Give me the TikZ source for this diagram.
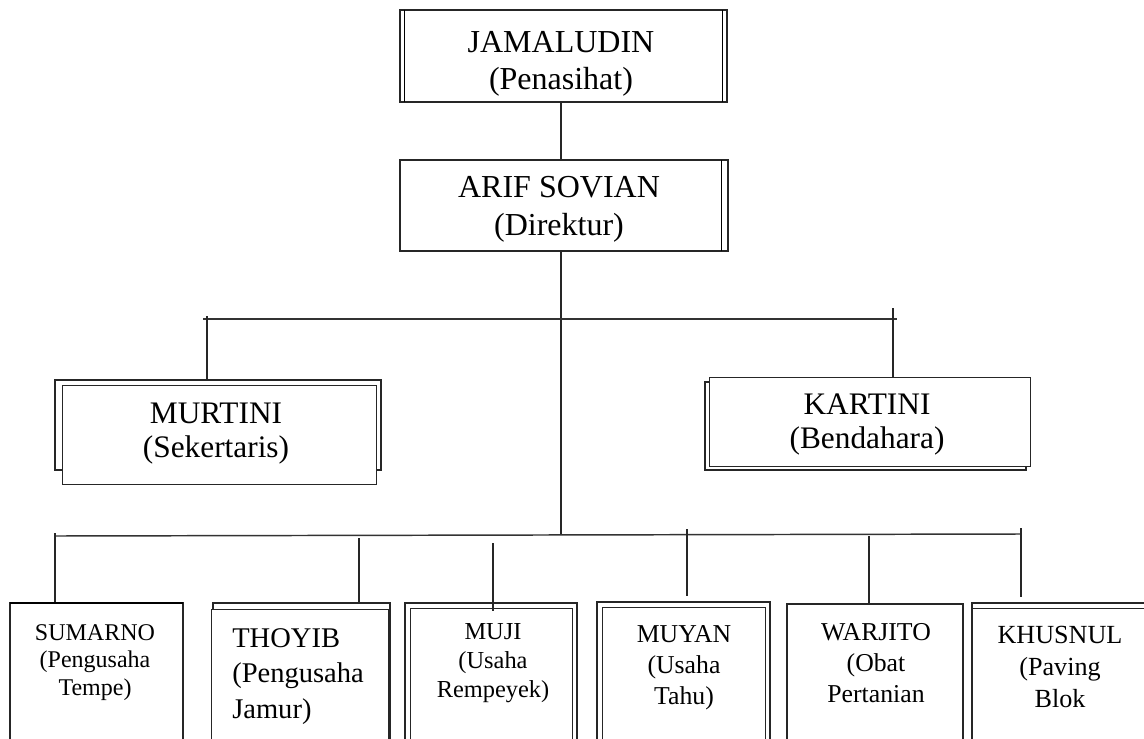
\documentclass[tikz,border=0pt]{standalone}
\usepackage{fontspec}
\setmainfont{Liberation Serif}
\usetikzlibrary{fit}
\tikzset{
  frame/.style={draw=black!85, line width=1.6pt, inner sep=0pt, fill=white},
  thinframe/.style={draw=black!85, line width=0.7pt, inner sep=0pt, fill=white},
  lbl/.style={inner sep=0pt, anchor=base, align=center, text=black},
  conn/.style={draw=black!85, line width=0.9pt},
  bus/.style={draw=black!80, line width=1.1pt},
}
\begin{document}
\begin{tikzpicture}[x=0.75pt,y=-0.75pt]
\useasboundingbox (0,0) rectangle (1144,738);
\clip (0,0) rectangle (1144,738);
% ---- top boxes
\node[frame, fit={(400,10) (727,102)}] (jam) {};
\draw[line width=0.7pt] (404,10) -- (404,102) (722,10) -- (722,102);
\node[thinframe, line width=1.1pt, fit={(400,160) (728,251)}] (ari) {};
\draw[line width=0.7pt] (721,160) -- (721,251);
\node[lbl, font=\fontsize{24}{28}\selectfont] (jamt) at (561,90) {JAMALUDIN\\(Penasihat)};
\node[lbl, font=\fontsize{24}{28.5}\selectfont] (arit) at (559,235) {ARIF SOVIAN\\(Direktur)};
% ---- middle boxes
\node[frame, fit={(55,380) (381,470)}] (murs) {};
\node[thinframe, fit={(62,385) (376,484)}] (mur) {};
\node[frame, fit={(705,382) (1026,470)}] (kars) {};
\node[thinframe, fit={(709,377) (1030,466)}] (kar) {};
\node[lbl, font=\fontsize{23.5}{25.5}\selectfont] (murt) at (216,457) {MURTINI\\(Sekertaris)};
\node[lbl, font=\fontsize{23.5}{25}\selectfont] (kart) at (867,448) {KARTINI\\(Bendahara)};
% ---- bottom boxes
\node[thinframe, line width=1.1pt, fit={(10,603) (183,760)}] (sum) {};
\draw[line width=1.8pt] (10,603) -- (183,603);
\node[frame, fit={(213,603) (390,760)}] (thos) {};
\node[thinframe, fit={(211,609) (388,760)}] (tho) {};
\node[frame, fit={(405,603) (577,760)}] (mujs) {};
\node[thinframe, fit={(410,608) (572,760)}] (muj) {};
\node[frame, fit={(597,602) (770,760)}] (muys) {};
\node[thinframe, fit={(602,607) (765,760)}] (muy) {};
\node[thinframe, line width=0.9pt, fit={(787,604) (963,760)}] (war) {};
\node[frame, fit={(972,603) (1160,760)}] (khus) {};
\node[thinframe, fit={(972,608) (1160,760)}] (khu) {};
\node[lbl, font=\fontsize{18}{20.6}\selectfont] (sumt) at (95,695) {SUMARNO\\(Pengusaha\\Tempe)};
\node[lbl, anchor=base west, align=left, font=\fontsize{21.4}{26.6}\selectfont] (thot) at (232,718) {THOYIB\\(Pengusaha\\Jamur)};
\node[lbl, font=\fontsize{18.3}{21.4}\selectfont] (mujt) at (493,697) {MUJI\\(Usaha\\Rempeyek)};
\node[lbl, font=\fontsize{19.3}{23.25}\selectfont] (muyt) at (684,704) {MUYAN\\(Usaha\\Tahu)};
\node[lbl, font=\fontsize{19.3}{23.25}\selectfont] (wart) at (876,702) {WARJITO\\(Obat\\Pertanian};
\node[lbl, font=\fontsize{19.6}{24}\selectfont] (khut) at (1060,707) {KHUSNUL\\(Paving\\Blok};
% ---- connectors
\draw[conn] (jam.south -| 561,0) -- (ari.north -| 561,0);
\coordinate (trunkA) at (561,251);
\coordinate (trunkB) at (561,535);
\draw[conn] (trunkA) -- (trunkB);
% upper bus
\coordinate (ubL) at (203,319);
\coordinate (ubR) at (897,319);
\draw[bus] (ubL) -- (ubR);
\coordinate (mc) at (207,316);
\coordinate (kc) at (893,308);
\draw[conn] (mc) -- (mc |- murs.north);
\draw[conn] (kc) -- (kc |- kar.north);
% lower bus
\coordinate (lbL) at (55,536);
\coordinate (lbR) at (1020,534);
\draw[bus] (lbL) -- (lbR);
\coordinate (c1) at (55,533);
\coordinate (c2) at (359,538);
\coordinate (c3) at (493,543);
\coordinate (c4) at (687,529);
\coordinate (c5) at (869,536);
\coordinate (c6) at (1021,528);
\draw[conn] (c1) -- (c1 |- sum.north);
\draw[conn] (c2) -- (c2 |- thos.north);
\draw[conn] (c3) -- ([yshift=-7pt]c3 |- mujs.north);
\draw[conn] (c4) -- ([yshift=4pt]c4 |- muys.north);
\draw[conn] (c5) -- (c5 |- war.north);
\draw[conn] (c6) -- ([yshift=4pt]c6 |- khus.north);
\end{tikzpicture}
\end{document}
